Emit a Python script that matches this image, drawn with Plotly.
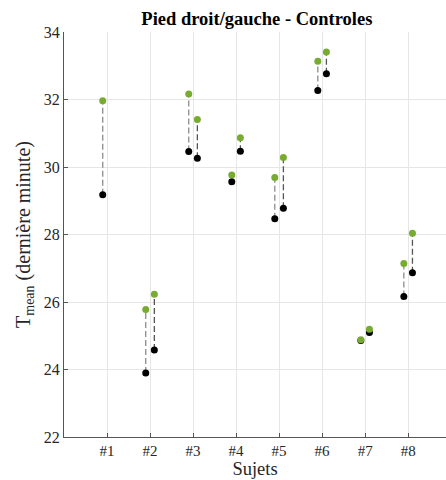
import plotly.graph_objects as go

subjects = ["#1", "#2", "#3", "#4", "#5", "#6", "#7", "#8"]
black_a = [29.18, 23.90, 30.46, 29.56, 28.47, 32.27, 24.86, 26.16]
green_a = [31.96, 25.78, 32.16, 29.76, 29.69, 33.13, 24.88, 27.14]
black_b = [None, 24.58, 30.26, 30.47, 28.78, 32.76, 25.10, 26.87]
green_b = [None, 26.23, 31.41, 30.87, 30.28, 33.41, 25.19, 28.04]
offset = 0.1

GREEN = "#77AC30"
FONT = "Liberation Serif"

xs = list(range(1, len(subjects) + 1))
xa = [x - offset for x in xs]
xb = [x + offset for x in xs]

def seg(xpos, lo, hi):
    X, Y = [], []
    for x, a, b in zip(xpos, lo, hi):
        if a is None or b is None:
            continue
        X += [x, x, None]
        Y += [a, b, None]
    return X, Y

fig = go.Figure()
for xpos, lo, hi, col in [(xa, black_a, green_a, "#8c8c8c"), (xb, black_b, green_b, "#555555")]:
    X, Y = seg(xpos, lo, hi)
    fig.add_trace(go.Scatter(x=X, y=Y, mode="lines", line=dict(color=col, width=1.3, dash="6px,3px"),
                             showlegend=False, hoverinfo="skip"))

for xpos, vals in [(xa, black_a), (xb, black_b)]:
    fig.add_trace(go.Scatter(x=xpos, y=vals, mode="markers", marker=dict(color="black", size=7),
                             showlegend=False))
for xpos, vals in [(xa, green_a), (xb, green_b)]:
    fig.add_trace(go.Scatter(x=xpos, y=vals, mode="markers", marker=dict(color=GREEN, size=7),
                             showlegend=False))

fig.update_layout(
    width=446, height=480,
    margin=dict(l=64, r=0, t=32, b=43),
    plot_bgcolor="white", paper_bgcolor="white",
    font=dict(family=FONT, color="#262626", size=15),
    title=dict(text="<b>Pied droit/gauche - Controles</b>", x=0.576, xanchor="center",
               y=0.962, yanchor="middle", font=dict(size=18.5, color="black", family=FONT)),
)
fig.update_xaxes(range=[0, 8.88], tickmode="array", tickvals=xs, ticktext=subjects,
                 showgrid=True, gridcolor="#e6e6e6", gridwidth=1,
                 showline=True, linecolor="#555555", linewidth=1,
                 ticks="inside", ticklen=4, tickcolor="#555555",
                 tickfont=dict(size=15, family=FONT, color="#262626"),
                 title=dict(text="Sujets", font=dict(size=18.5, family=FONT, color="#262626"), standoff=3),
                 zeroline=False)
fig.update_yaxes(range=[22, 34], tickvals=[22, 24, 26, 28, 30, 32, 34],
                 showgrid=True, gridcolor="#e6e6e6", gridwidth=1,
                 showline=True, linecolor="#555555", linewidth=1,
                 ticks="inside", ticklen=4, tickcolor="#555555",
                 tickfont=dict(size=16, family=FONT, color="#262626"),
                 title=dict(text="T<sub>mean</sub> (dernière minute)",
                            font=dict(size=20, family=FONT, color="#262626"), standoff=7),
                 zeroline=False)

fig.write_html("out.html", config={"displayModeBar": False},
               post_script="document.body.style.margin='0px';document.body.style.overflow='hidden';")
